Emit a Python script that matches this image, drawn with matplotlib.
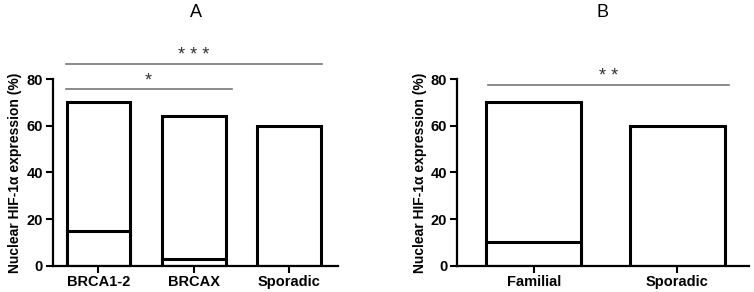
import matplotlib
matplotlib.use("Agg")
import matplotlib.pyplot as plt

plt.rcParams['font.family'] = ['Liberation Sans', 'DejaVu Sans']

# panel A data
groups_a = ['BRCA1-2', 'BRCAX', 'Sporadic']
total_a = [70, 64, 60]
inner_a = [15, 3, 0]
# panel B data
groups_b = ['Familial', 'Sporadic']
total_b = [70, 60]
inner_b = [10, 0]

yticks = [0, 20, 40, 60, 80]
ylabel = 'Nuclear HIF-1\u03b1 expression (%)'

fig = plt.figure(figsize=(7.54, 2.92), dpi=100)
ax_a = fig.add_axes([0.0699, 0.090, 0.378, 0.639])
ax_b = fig.add_axes([0.606, 0.090, 0.387, 0.639])


def draw_panel(ax, groups, total, inner, width, xlim):
    x = list(range(len(groups)))
    ax.bar(x, total, width=width, color='white', edgecolor='black', linewidth=2.2)
    for xi, v in zip(x, inner):
        if v > 0:
            ax.bar(xi, v, width=width, color='white', edgecolor='black', linewidth=2.2)
    ax.set_xlim(*xlim)
    ax.set_ylim(0, 80)
    ax.set_yticks(yticks)
    ax.set_xticks(x)
    ax.set_xticklabels(groups, fontweight='bold', fontsize=10.5)
    for lab in ax.get_yticklabels():
        lab.set_fontweight('bold')
        lab.set_fontsize(10.5)
    ax.tick_params(direction='out', width=1.5, length=5, pad=2)
    for s in ['top', 'right']:
        ax.spines[s].set_visible(False)
    for s in ['left', 'bottom']:
        ax.spines[s].set_linewidth(1.6)
    ax.set_ylabel(ylabel, fontweight='bold', fontsize=10,
                  family=['Liberation Sans Narrow', 'Liberation Sans', 'DejaVu Sans'],
                  labelpad=3)


def sig_bar(ax, x0, x1, y, text, ty):
    ax.plot([x0, x1], [y, y], color='#777777', linewidth=1.2, clip_on=False)
    ax.text((x0 + x1) / 2, ty, text, ha='center', va='center', fontsize=13,
            color='#333333', clip_on=False)


draw_panel(ax_a, groups_a, total_a, inner_a, 0.67, (-0.48, 2.51))
draw_panel(ax_b, groups_b, total_b, inner_b, 0.66, (-0.534, 1.497))

sig_bar(ax_a, -0.345, 2.345, 86.3, '* * *', 90.0)
sig_bar(ax_a, -0.345, 1.4, 75.9, '*', 79.0)
sig_bar(ax_b, -0.315, 1.36, 77.4, '* *', 81.0)

fig.text(196 / 754, 1 - 12.7 / 292, 'A', ha='center', va='center', fontsize=13)
fig.text(602.7 / 754, 1 - 12.7 / 292, 'B', ha='center', va='center', fontsize=13)

fig.savefig('out.png', dpi=100)
